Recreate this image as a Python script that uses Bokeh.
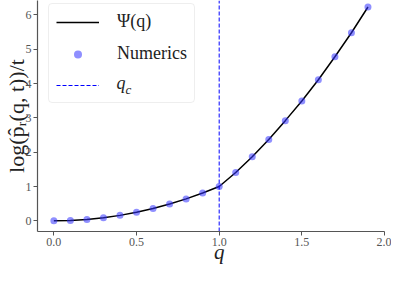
from bokeh.plotting import figure
from bokeh.models import (Legend, LegendItem, Range1d, FixedTicker, Label,
                          PrintfTickFormatter, LinearAxis)
from bokeh.embed import file_html
from bokeh.resources import INLINE

# data
q = [0.0, 0.1, 0.2, 0.3, 0.4, 0.5, 0.6, 0.7, 0.8, 0.9, 1.0,
     1.1, 1.2, 1.3, 1.4, 1.5, 1.6, 1.7, 1.8, 1.9]
psi = [0.0, 0.01, 0.04, 0.09, 0.16, 0.25, 0.36, 0.49, 0.64, 0.81, 1.0,
       1.41, 1.87, 2.37, 2.92, 3.49, 4.11, 4.78, 5.48, 6.23]
numerics = [0.0, 0.01, 0.04, 0.09, 0.16, 0.25, 0.36, 0.49, 0.64, 0.81, 1.0,
            1.41, 1.87, 2.37, 2.92, 3.49, 4.11, 4.78, 5.48, 6.23]
q_c = 1.0
x_ticks = [0.0, 0.5, 1.0, 1.5, 2.0]
y_ticks = [0, 1, 2, 3, 4, 5, 6]
x_label_pos = 1.0

SERIF = "Liberation Serif"
AX = "#555555"
Y_LO, Y_HI = -0.31, 6.42

p = figure(width=391, height=267, output_backend="svg", toolbar_location=None,
           x_range=Range1d(-0.099, 2.0), y_range=Range1d(Y_LO, Y_HI),
           min_border_left=33, min_border_right=7, min_border_top=0,
           min_border_bottom=36)
p.outline_line_color = None
p.grid.grid_line_color = None
p.background_fill_color = "white"

line_r = p.line(q, psi, line_color="black", line_width=1.5)
pts_r = p.scatter(q, numerics, size=7, fill_color="#3333ff", fill_alpha=0.55,
                  line_color=None)
qc_r = p.line(x=[q_c, q_c], y=[Y_LO, Y_HI], line_color="blue", line_width=1,
              line_dash="4 2")

for ax, ticks in ((p.xaxis, x_ticks), (p.yaxis, y_ticks)):
    ax.ticker = FixedTicker(ticks=ticks)
    ax.axis_line_color = AX
    ax.axis_line_width = 1.2
    ax.major_tick_line_color = AX
    ax.major_tick_out = 4
    ax.major_tick_in = 0
    ax.minor_tick_line_color = None
    ax.major_label_text_font = SERIF
    ax.major_label_text_font_size = "12px"
    ax.major_label_text_color = "#555555"
    ax.axis_label_text_font = SERIF
    ax.axis_label_text_color = "#222222"

p.xaxis.formatter = PrintfTickFormatter(format="%.1f")
p.xaxis.major_label_standoff = 2

# x-axis title drawn as a tick label of a bare secondary axis (keeps it compact)
xlab = LinearAxis(ticker=FixedTicker(ticks=[x_label_pos]),
                  major_label_overrides={x_label_pos: "q"})
xlab.axis_line_color = None
xlab.major_tick_line_color = None
xlab.minor_tick_line_color = None
xlab.major_tick_out = 0
xlab.major_tick_in = 0
xlab.major_label_standoff = -9
xlab.major_label_text_font = SERIF
xlab.major_label_text_font_size = "21px"
xlab.major_label_text_font_style = "italic"
xlab.major_label_text_color = "#222222"
p.add_layout(xlab, "below")

p.yaxis.axis_label = "log(p̂ᵣ(q, t))/t"
p.yaxis.axis_label_text_font_size = "22px"
p.yaxis.axis_label_text_font_style = "normal"
p.yaxis.axis_label_standoff = -6
p.yaxis.major_label_standoff = 2

legend = Legend(items=[
    LegendItem(label="Ψ(q)", renderers=[line_r]),
    LegendItem(label="Numerics", renderers=[pts_r], index=0),
    LegendItem(label=" ", renderers=[qc_r]),
], location=(11, 128))
legend.label_text_font = SERIF
legend.label_text_font_size = "18px"
legend.label_text_color = "#222222"
legend.glyph_width = 43
legend.glyph_height = 20
legend.label_standoff = 18
legend.spacing = 11
legend.padding = 7
legend.margin = 0
legend.border_line_color = "#dddddd"
legend.border_line_width = 1
legend.background_fill_alpha = 0.0
if "border_radius" in Legend.properties():
    legend.border_radius = 4
p.add_layout(legend)

p.add_layout(Label(x=79, y=139, x_units="screen", y_units="screen", text="q",
                   text_font=SERIF, text_font_size="18px", text_font_style="italic",
                   text_color="#222222"))
p.add_layout(Label(x=88, y=135, x_units="screen", y_units="screen", text="c",
                   text_font=SERIF, text_font_size="13px", text_font_style="italic",
                   text_color="#222222"))

open("out.html", "w").write(file_html(p, INLINE))
